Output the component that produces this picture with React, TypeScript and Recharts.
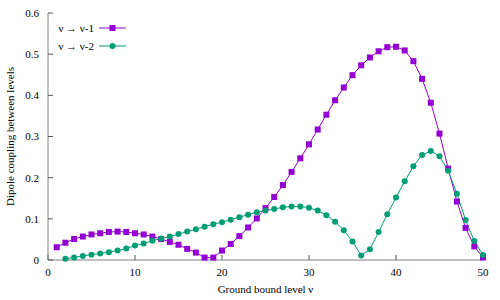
import React from "react";
import { LineChart, Line, XAxis, YAxis } from "recharts";

const levels = [
  1, 2, 3, 4, 5, 6, 7, 8, 9, 10, 11, 12, 13, 14, 15, 16, 17, 18, 19, 20, 21, 22, 23, 24, 25,
  26, 27, 28, 29, 30, 31, 32, 33, 34, 35, 36, 37, 38, 39, 40, 41, 42, 43, 44, 45, 46, 47, 48, 49, 50,
];

// ν → ν-1
const minusOne = [
  0.031, 0.042, 0.051, 0.057, 0.062, 0.065, 0.068, 0.069, 0.068, 0.065,
  0.062, 0.057, 0.051, 0.044, 0.037, 0.027, 0.018, 0.006, 0.006, 0.023,
  0.039, 0.058, 0.079, 0.101, 0.126, 0.153, 0.182, 0.214, 0.247, 0.281,
  0.317, 0.353, 0.388, 0.419, 0.449, 0.473, 0.492, 0.507, 0.517, 0.518,
  0.509, 0.483, 0.44, 0.382, 0.307, 0.222, 0.142, 0.078, 0.033, 0.006,
];

// ν → ν-2 (starts at ν = 2)
const minusTwo = [
  null, 0.003, 0.006, 0.01, 0.013, 0.016, 0.019, 0.023, 0.028, 0.035,
  0.04, 0.047, 0.052, 0.057, 0.063, 0.069, 0.075, 0.081, 0.087, 0.092,
  0.098, 0.104, 0.11, 0.116, 0.12, 0.124, 0.128, 0.13, 0.13, 0.127,
  0.12, 0.109, 0.093, 0.072, 0.045, 0.011, 0.026, 0.068, 0.111, 0.152,
  0.191, 0.228, 0.255, 0.265, 0.252, 0.217, 0.161, 0.097, 0.046, 0.012,
];

const xTicks = [0, 10, 20, 30, 40, 50];
const yTicks = [0, 0.1, 0.2, 0.3, 0.4, 0.5, 0.6];

const PURPLE = "#9400D3";
const GREEN = "#009E73";
const FONT = "Liberation Serif";

const data = levels.map((v, i) => ({ v, a: minusOne[i], b: minusTwo[i] }));

const SquareDot = (p: any) => {
  if (p.cx == null || p.cy == null || p.value == null) return <g key={p.key} />;
  return <rect key={p.key} x={p.cx - 3} y={p.cy - 3} width={6} height={6} fill={PURPLE} />;
};

const CircleDot = (p: any) => {
  if (p.cx == null || p.cy == null || p.value == null) return <g key={p.key} />;
  return <circle key={p.key} cx={p.cx} cy={p.cy} r={3} fill={GREEN} />;
};

const legendItems = [
  { label: "ν → ν-1", color: PURPLE, shape: "square" },
  { label: "ν → ν-2", color: GREEN, shape: "circle" },
];

const LegendBox = () => (
  <div style={{ position: "absolute", left: 50, top: 19, fontFamily: FONT, fontSize: 11, color: "#000" }}>
    {legendItems.map((it) => (
      <div key={it.label} style={{ display: "flex", alignItems: "center", height: 18 }}>
        <span style={{ width: 44, textAlign: "right", whiteSpace: "nowrap" }}>{it.label}</span>
        <svg width={30} height={10} style={{ marginLeft: 5 }}>
          <line x1={0} y1={5} x2={27} y2={5} stroke={it.color} strokeWidth={1} />
          {it.shape === "square" ? (
            <rect x={10.5} y={2} width={6} height={6} fill={it.color} />
          ) : (
            <circle cx={13.5} cy={5} r={3} fill={it.color} />
          )}
        </svg>
      </div>
    ))}
  </div>
);

const YLabel = ({ viewBox }: any) => {
  const x = 10;
  const y = viewBox.y + viewBox.height / 2;
  return (
    <text
      x={x}
      y={y}
      transform={`rotate(-90 ${x} ${y})`}
      textAnchor="middle"
      dominantBaseline="central"
      style={{ fontFamily: FONT, fontSize: 11 }}
      fill="#000"
    >
      Dipole coupling between levels
    </text>
  );
};

export default function App() {
  const tickStyle = { fontFamily: FONT, fontSize: 11, fill: "#000", style: { fontFamily: FONT } };
  return (
    <div
      style={{
        position: "absolute",
        left: 0,
        top: 0,
        width: 500,
        height: 300,
        background: "#fff",
        fontFamily: FONT,
      }}
    >
      <LineChart
        width={500}
        height={300}
        data={data}
        margin={{ top: 13, right: 17, bottom: 0, left: 0 }}
        style={{ fontFamily: FONT }}
      >
        <XAxis
          dataKey="v"
          type="number"
          domain={[0, 50]}
          ticks={xTicks}
          height={40}
          tickSize={-5}
          tickMargin={13}
          tick={tickStyle}
          axisLine={{ stroke: "#808080", strokeWidth: 1 }}
          tickLine={{ stroke: "#555" }}
          label={{
            value: "Ground bound level  ν",
            position: "insideBottom",
            offset: 7,
            style: { fontFamily: FONT, fontSize: 11, fill: "#000", whiteSpace: "pre" },
          }}
        />
        <XAxis
          xAxisId="top"
          orientation="top"
          dataKey="v"
          type="number"
          domain={[0, 50]}
          ticks={xTicks}
          height={0}
          tickSize={-5}
          tick={false}
          axisLine={{ stroke: "#808080", strokeWidth: 1 }}
          tickLine={{ stroke: "#555" }}
        />
        <YAxis
          type="number"
          domain={[0, 0.6]}
          ticks={yTicks}
          width={48}
          tickSize={-5}
          tickMargin={14}
          tick={tickStyle}
          axisLine={{ stroke: "#808080", strokeWidth: 1 }}
          tickLine={{ stroke: "#555" }}
          label={{ content: YLabel }}
        />
        <YAxis
          yAxisId="right"
          orientation="right"
          type="number"
          domain={[0, 0.6]}
          ticks={yTicks}
          width={0}
          tickSize={-5}
          tick={false}
          axisLine={{ stroke: "#222", strokeWidth: 1 }}
          tickLine={{ stroke: "#555" }}
        />
        <Line
          dataKey="a"
          name="ν → ν-1"
          stroke={PURPLE}
          strokeWidth={1}
          dot={SquareDot}
          activeDot={false}
          isAnimationActive={false}
        />
        <Line
          dataKey="b"
          name="ν → ν-2"
          stroke={GREEN}
          strokeWidth={1}
          dot={CircleDot}
          activeDot={false}
          connectNulls={false}
          isAnimationActive={false}
        />
      </LineChart>
      <LegendBox />
    </div>
  );
}
